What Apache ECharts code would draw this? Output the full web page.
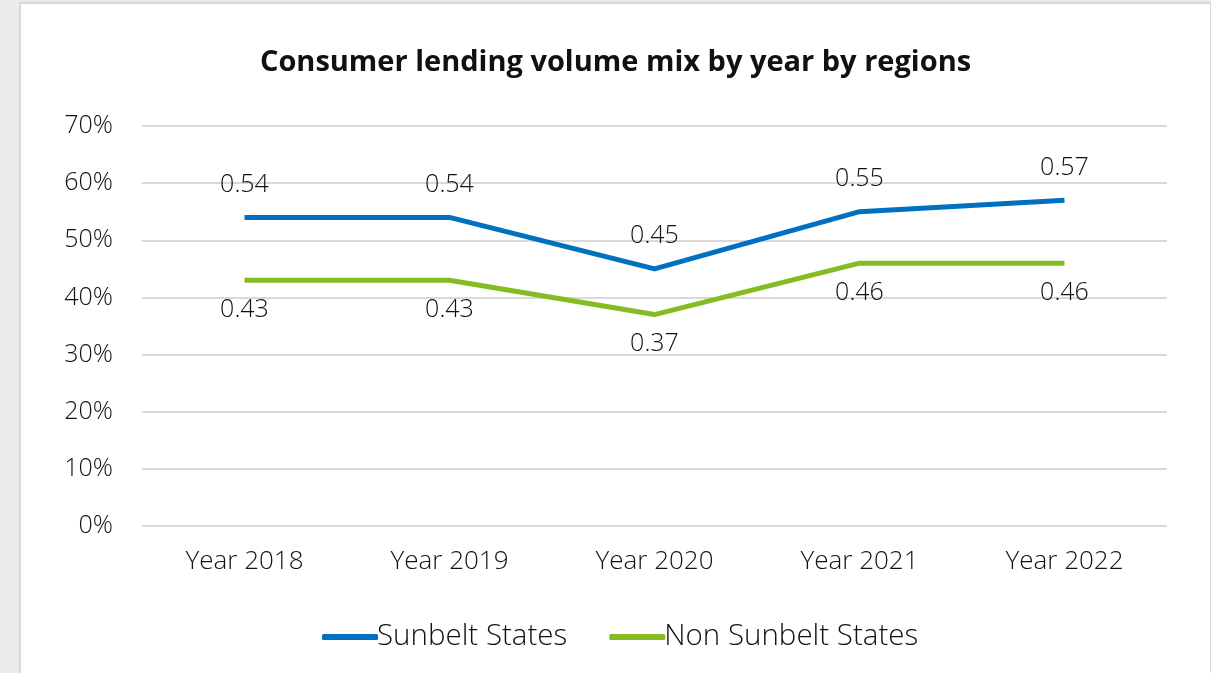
<!DOCTYPE html>
<html>
<head>
<meta charset="utf-8">
<script src="https://cdn.jsdelivr.net/npm/echarts@6/dist/echarts.min.js"></script>
<style>
  html, body { margin: 0; padding: 0; background: #ebebeb; overflow: hidden; }
  #panel {
    position: absolute; left: 19px; top: 2px; width: 1189px; height: 680px;
    background: #fff; border: 2px solid #d9d9d9;
  }
  #chart { width: 1189px; height: 671px; }
</style>
</head>
<body>
<div id="panel"><div id="chart"></div></div>
<script>
// categories and series
const years = ["Year 2018", "Year 2019", "Year 2020", "Year 2021", "Year 2022"];
const sunbelt = [0.54, 0.54, 0.45, 0.55, 0.57];
const nonSunbelt = [0.43, 0.43, 0.37, 0.46, 0.46];

const chart = echarts.init(document.getElementById("chart"));
const font = "'Open Sans', sans-serif";

chart.setOption({
  animation: false,
  title: {
    text: "Consumer lending volume mix by year by regions",
    left: "center",
    top: 39,
    textStyle: { fontFamily: font, fontWeight: "bold", fontSize: 29, color: "#111" },
  },
  legend: {
    top: 613,
    left: 296,
    itemWidth: 56,
    itemHeight: 6,
    itemGap: 42,
    icon: "roundRect",
    textStyle: { fontFamily: font, fontWeight: 300, fontSize: 29.5, color: "#111", padding: [0, 0, 0, -6] },
    data: ["Sunbelt States", "Non Sunbelt States"],
  },
  grid: { left: 121, right: 43, top: 122, bottom: 149, containLabel: false },
  xAxis: {
    type: "category",
    data: years,
    boundaryGap: true,
    axisLine: { show: false },
    axisTick: { show: false },
    axisLabel: { margin: 23, fontFamily: font, fontWeight: 300, fontSize: 26, color: "#111" },
  },
  yAxis: {
    type: "value",
    min: 0,
    max: 0.7,
    interval: 0.1,
    axisLine: { show: false },
    axisTick: { show: false },
    splitLine: { lineStyle: { color: "#d9d9d9", width: 2 } },
    axisLabel: {
      margin: 29,
      fontFamily: font, fontWeight: 300, fontSize: 25, color: "#111",
      formatter: (v) => Math.round(v * 100) + "%",
    },
  },
  series: [
    {
      name: "Sunbelt States",
      type: "line",
      data: sunbelt,
      symbol: "circle",
      symbolSize: 0,
      color: "#0070c0",
      lineStyle: { width: 5, color: "#0070c0" },
      label: {
        show: true, position: "top", distance: 20,
        fontFamily: font, fontWeight: 300, fontSize: 25, color: "#111",
      },
    },
    {
      name: "Non Sunbelt States",
      type: "line",
      data: nonSunbelt,
      symbol: "circle",
      symbolSize: 0,
      color: "#84bc22",
      lineStyle: { width: 5, color: "#84bc22" },
      label: {
        show: true, position: "bottom", distance: 17,
        fontFamily: font, fontWeight: 300, fontSize: 25, color: "#111",
      },
    },
  ],
});
</script>
</body>
</html>
